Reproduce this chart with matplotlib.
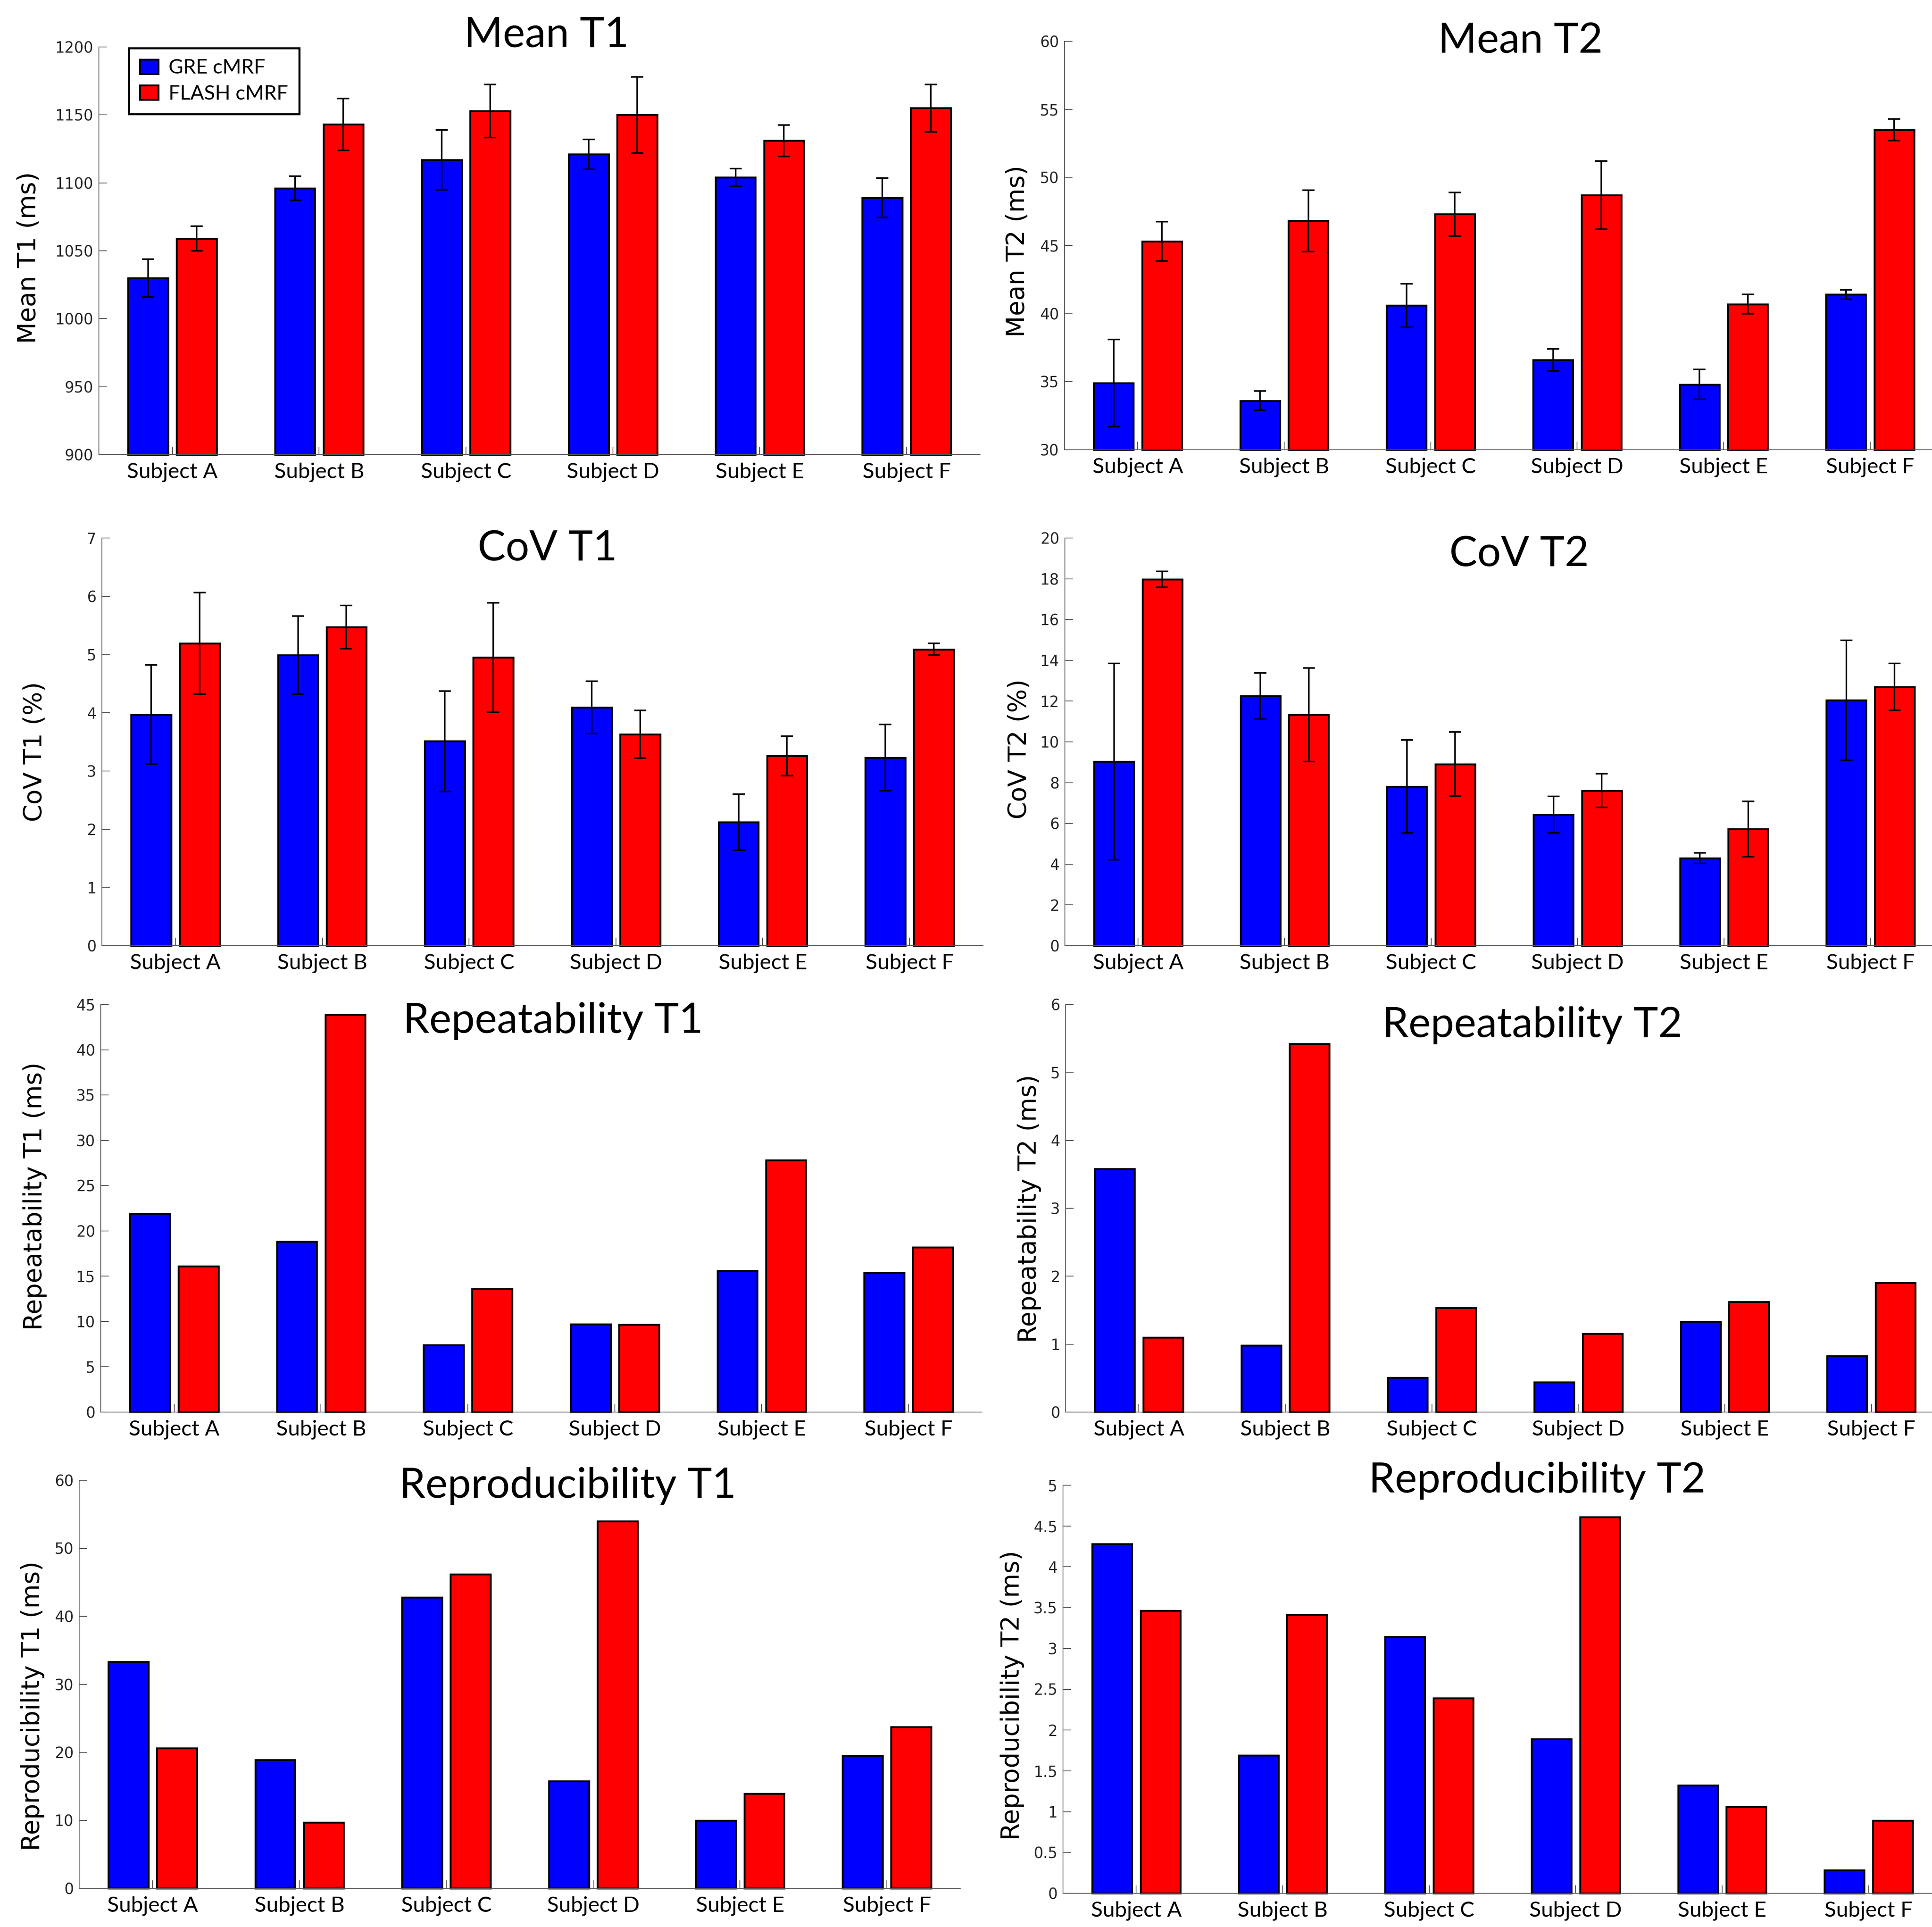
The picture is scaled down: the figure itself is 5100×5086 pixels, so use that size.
import numpy as np
import matplotlib
matplotlib.use("Agg")
import matplotlib.pyplot as plt
from matplotlib.ticker import FuncFormatter

# ---------------- data ----------------
subjects = ['Subject A', 'Subject B', 'Subject C', 'Subject D', 'Subject E', 'Subject F']
series_names = ['GRE cMRF', 'FLASH cMRF']

mean_t1_gre = [1030, 1096, 1117, 1121, 1104, 1089]
mean_t1_gre_err = [14, 9, 22, 11, 6.5, 14.5]
mean_t1_flash = [1059, 1143, 1153, 1150, 1131, 1155]
mean_t1_flash_err = [9, 19, 19.5, 28, 11.5, 17.5]

mean_t2_gre = [34.9, 33.6, 40.6, 36.6, 34.8, 41.4]
mean_t2_gre_err = [3.2, 0.7, 1.6, 0.8, 1.1, 0.35]
mean_t2_flash = [45.3, 46.8, 47.3, 48.7, 40.7, 53.5]
mean_t2_flash_err = [1.45, 2.25, 1.6, 2.5, 0.7, 0.8]

cov_t1_gre = [3.97, 4.99, 3.51, 4.09, 2.12, 3.23]
cov_t1_gre_err = [0.85, 0.67, 0.86, 0.45, 0.48, 0.57]
cov_t1_flash = [5.19, 5.47, 4.95, 3.63, 3.26, 5.09]
cov_t1_flash_err = [0.87, 0.37, 0.94, 0.41, 0.34, 0.10]

cov_t2_gre = [9.03, 12.25, 7.81, 6.43, 4.29, 12.04]
cov_t2_gre_err = [4.81, 1.14, 2.28, 0.90, 0.26, 2.95]
cov_t2_flash = [17.97, 11.33, 8.91, 7.61, 5.72, 12.69]
cov_t2_flash_err = [0.39, 2.30, 1.57, 0.82, 1.36, 1.15]

rep_t1_gre = [21.9, 18.8, 7.4, 9.7, 15.6, 15.4]
rep_t1_flash = [16.1, 43.85, 13.6, 9.65, 27.8, 18.2]

rep_t2_gre = [3.58, 0.98, 0.505, 0.44, 1.335, 0.825]
rep_t2_flash = [1.10, 5.42, 1.535, 1.155, 1.625, 1.90]

repro_t1_gre = [33.3, 18.9, 42.8, 15.75, 10.0, 19.5]
repro_t1_flash = [20.6, 9.7, 46.2, 54.0, 13.9, 23.75]

repro_t2_gre = [4.28, 1.69, 3.145, 1.89, 1.325, 0.285]
repro_t2_flash = [3.465, 3.41, 2.39, 4.61, 1.06, 0.89]

titles = ['Mean T1', 'Mean T2', 'CoV T1', 'CoV T2',
          'Repeatability T1', 'Repeatability T2',
          'Reproducibility T1', 'Reproducibility T2']
ylabels = ['Mean T1 (ms)', 'Mean T2 (ms)', 'CoV T1 (%)', 'CoV T2 (%)',
           'Repeatability T1 (ms)', 'Repeatability T2 (ms)',
           'Reproducibility T1 (ms)', 'Reproducibility T2 (ms)']
yticks = [np.arange(900, 1201, 50), np.arange(30, 61, 5), np.arange(0, 8, 1),
          np.arange(0, 21, 2), np.arange(0, 46, 5), np.arange(0, 7, 1),
          np.arange(0, 61, 10), np.arange(0, 5.01, 0.5)]

panels = [
    (mean_t1_gre, mean_t1_flash, mean_t1_gre_err, mean_t1_flash_err),
    (mean_t2_gre, mean_t2_flash, mean_t2_gre_err, mean_t2_flash_err),
    (cov_t1_gre, cov_t1_flash, cov_t1_gre_err, cov_t1_flash_err),
    (cov_t2_gre, cov_t2_flash, cov_t2_gre_err, cov_t2_flash_err),
    (rep_t1_gre, rep_t1_flash, None, None),
    (rep_t2_gre, rep_t2_flash, None, None),
    (repro_t1_gre, repro_t1_flash, None, None),
    (repro_t2_gre, repro_t2_flash, None, None),
]

# ---------------- layout (pixels in a 5100 x 5086 canvas) ----------------
W, H = 5100, 5086
# left, right, top, bottom of each axes
boxes = [(261, 2587, 124, 1200), (2810, 5130, 109, 1187),
         (269, 2595, 1420, 2496), (2811, 5131, 1420, 2496),
         (266, 2592, 2651, 3727), (2813, 5133, 2651, 3727),
         (209, 2535, 3907, 4984), (2806, 5126, 3920, 4997)]
# title centre x and baseline y
title_pos = [(1442, 124), (4013, 139), (1445, 1479), (4010, 1494),
             (1460, 2726), (4045, 2737), (1499, 3953), (4058, 3939)]
# y-label centres
ylabel_pos = [(76, 680), (2686, 663), (92, 1984), (2691, 1977),
              (92, 3157), (2717, 3190), (86, 4503), (2672, 4475)]

BLUE = '#0000FF'
RED = '#FF0000'
AXC = '#555555'
TITLE_FONT = 'Lato'
TICK_FONT = 'Lato'

fig = plt.figure(figsize=(W / 300, H / 300), dpi=300)

x = np.arange(1, 7)
off = 0.165
bw = 0.272

for i, (gre, flash, gerr, ferr) in enumerate(panels):
    L, R, T, B = boxes[i]
    ax = fig.add_axes([L / W, 1 - B / H, (R - L) / W, (B - T) / H])
    ymin, ymax = yticks[i][0], yticks[i][-1]
    ax.set_xlim(0.5, 6.5)
    ax.set_ylim(ymin, ymax)
    g = np.asarray(gre, dtype=float)
    f = np.asarray(flash, dtype=float)
    b1 = ax.bar(x - off, g - ymin, bw, bottom=ymin, color=BLUE, edgecolor='black',
                linewidth=1.15, zorder=2, clip_on=False, label=series_names[0])
    b2 = ax.bar(x + off, f - ymin, bw, bottom=ymin, color=RED, edgecolor='black',
                linewidth=1.15, zorder=2, clip_on=False, label=series_names[1])
    if gerr is not None:
        ax.errorbar(x - off, g, yerr=gerr, fmt='none', ecolor='black',
                    elinewidth=1.0, capsize=3.8, capthick=1.0, zorder=3)
        ax.errorbar(x + off, f, yerr=ferr, fmt='none', ecolor='black',
                    elinewidth=1.0, capsize=3.8, capthick=1.0, zorder=3)

    for s in ('top', 'right'):
        ax.spines[s].set_visible(False)
    for s in ('left', 'bottom'):
        ax.spines[s].set_color(AXC)
        ax.spines[s].set_linewidth(0.5)

    ax.set_xticks(x)
    ax.set_xticklabels(subjects, fontfamily=TICK_FONT, fontsize=13.7, color='black')
    ax.set_yticks(yticks[i])
    ax.yaxis.set_major_formatter(FuncFormatter(lambda v, p: '%g' % v))
    ax.tick_params(axis='both', direction='in', length=5, width=0.5, color=AXC)
    ax.tick_params(axis='x', pad=5)
    ax.tick_params(axis='y', pad=3.5, labelsize=9.5, labelcolor='#262626')
    for lab in ax.get_yticklabels():
        lab.set_fontfamily('DejaVu Sans')

    # title
    tx, tyb = title_pos[i]
    ax.set_title(titles[i], x=(tx - L) / (R - L), y=(B - tyb) / (B - T), pad=0,
                 fontfamily=TITLE_FONT, fontsize=26.5, color='black', va='baseline')

    # y label
    lx, ly = ylabel_pos[i]
    ax.set_ylabel(ylabels[i], fontfamily='DejaVu Sans', fontsize=15.8, color='black',
                  va='center', ha='center')
    ax.yaxis.set_label_coords(lx / W, 1 - ly / H, transform=fig.transFigure)

    if i == 0:
        leg = ax.legend(handles=[b1, b2], labels=series_names, loc='upper left',
                        bbox_to_anchor=((340 - L) / (R - L), (B - 127) / (B - T)),
                        borderaxespad=0, fancybox=False, framealpha=1,
                        edgecolor='black', handlelength=0.92, handleheight=0.72,
                        handletextpad=0.5, borderpad=0.55, labelspacing=0.4,
                        prop={'family': TICK_FONT, 'size': 12.8})
        leg.get_frame().set_linewidth(1.3)

fig.savefig('out.png', dpi=300, facecolor='white')
